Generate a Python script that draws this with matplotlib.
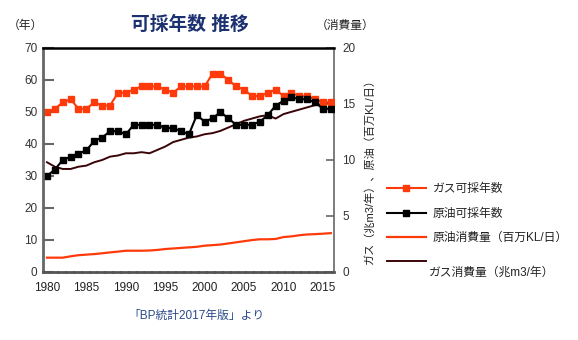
import matplotlib
matplotlib.use("Agg")
import matplotlib.pyplot as plt

plt.rcParams['font.family'] = ['Liberation Sans', 'Noto Sans CJK JP', 'DejaVu Sans']

years = list(range(1980, 2017))
gas_rp = [50, 51, 53, 54, 51, 51, 53, 52, 52, 56,
          56, 57, 58, 58, 58, 57, 56, 58, 58, 58,
          58, 62, 62, 60, 58, 57, 55, 55, 56, 57,
          55, 56, 55, 55, 54, 53, 53]
oil_rp = [30, 32, 35, 36, 37, 38, 41, 42, 44, 44,
          43, 46, 46, 46, 46, 45, 45, 44, 43, 49,
          47, 48, 50, 48, 46, 46, 46, 47, 49, 52,
          53.5, 54.6, 54, 54, 53, 51, 51]
oil_cons = [1.28, 1.28, 1.28, 1.4, 1.5, 1.55, 1.6, 1.67, 1.75, 1.82,
            1.9, 1.9, 1.9, 1.92, 1.97, 2.05, 2.1, 2.15, 2.2, 2.25,
            2.35, 2.4, 2.45, 2.55, 2.65, 2.75, 2.85, 2.92, 2.92, 2.95,
            3.12, 3.18, 3.28, 3.35, 3.38, 3.42, 3.47]
gas_cons = [9.8, 9.4, 9.2, 9.2, 9.4, 9.5, 9.8, 10.0, 10.3, 10.4,
            10.6, 10.6, 10.7, 10.6, 10.9, 11.2, 11.6, 11.8, 12.0, 12.1,
            12.3, 12.4, 12.6, 12.9, 13.2, 13.5, 13.7, 13.9, 14.0, 13.7,
            14.1, 14.3, 14.5, 14.7, 14.9, 15.0, 15.2]

xticks = [1980, 1985, 1990, 1995, 2000, 2005, 2010, 2015]
left_ticks = [0, 10, 20, 30, 40, 50, 60, 70]
right_ticks = [0, 5, 10, 15, 20]
labels = ['ガス可採年数', '原油可採年数', '原油消費量（百万KL/日）', 'ガス消費量（兆m3/年）']

ORANGE = '#ff3a0a'
BROWN = '#3a0508'
GREY = '#666666'

W, H = 578, 340
fig = plt.figure(figsize=(W / 100, H / 100), dpi=100)
ax = fig.add_axes([43 / W, 68 / H, 291 / W, 224 / H])
ax2 = ax.twinx()

ax.set_xlim(1979.5, 2016.4)
ax.set_ylim(0, 70)
ax2.set_ylim(0, 20)

l_oilc, = ax2.plot(years, oil_cons, color=ORANGE, lw=1.6)
l_gasc, = ax2.plot(years, gas_cons, color=BROWN, lw=1.4)
l_gas, = ax.plot(years, gas_rp, color=ORANGE, lw=1.5, marker='s', ms=5, mec=ORANGE)
l_oil, = ax.plot(years, oil_rp, color='black', lw=1.5, marker='s', ms=5)

ax.set_zorder(ax2.get_zorder() + 1)
ax.patch.set_visible(False)

ax.set_yticks(left_ticks)
ax.set_xticks(xticks)
ax.set_xticklabels([str(x) for x in xticks])
ax2.set_yticks(right_ticks)

ax.tick_params(axis='y', direction='in', length=8, width=1.5, color=GREY,
               labelsize=8.5, labelcolor='#333333', pad=4)
ax.tick_params(axis='x', length=0, labelsize=8.5, labelcolor='#222222', pad=7)
ax2.tick_params(axis='y', direction='in', length=6, width=1.2, color=GREY,
                labelsize=8.5, labelcolor='#333333', pad=6)

for a in (ax, ax2):
    for s in a.spines.values():
        s.set_visible(False)
ax.spines['top'].set_visible(True)
ax.spines['top'].set_color('black')
ax.spines['top'].set_linewidth(1.8)
ax.spines['left'].set_visible(True)
ax.spines['left'].set_color(GREY)
ax.spines['left'].set_linewidth(2)
ax.spines['bottom'].set_visible(True)
ax.spines['bottom'].set_color('#555555')
ax.spines['bottom'].set_linewidth(2)
ax.spines['bottom'].set_linestyle((0, (2.2, 0.62)))
ax2.spines['right'].set_visible(True)
ax2.spines['right'].set_color(GREY)
ax2.spines['right'].set_linewidth(1.2)

fig.text(189.5 / W, 1 - 25 / H, '可採年数 推移', ha='center', va='center',
         fontsize=13.5, fontweight='bold', color='#1c3170')
fig.text(25 / W, 1 - 26 / H, '（年）', ha='center', va='center', fontsize=8.5, color='#222222')
fig.text(345 / W, 1 - 26 / H, '（消費量）', ha='center', va='center', fontsize=8.5, color='#222222')
fig.text(369 / W, 1 - 168 / H, 'ガス（兆m3/年）、原油（百万KL/日）', rotation=90,
         ha='center', va='center', fontsize=8, color='#222222')
fig.text(196 / W, 1 - 316 / H, '「BP統計2017年版」より', ha='center', va='center',
         fontsize=8.5, color='#2a4a8a')

leg = fig.legend([l_gas, l_oil, l_oilc, l_gasc], labels[:3] + [' '], loc='center left',
                 bbox_to_anchor=(387 / W, 1 - 226 / H), frameon=False, fontsize=8.5,
                 borderpad=0, borderaxespad=0, handlelength=3.3, handletextpad=0.6,
                 labelspacing=1.05, numpoints=1, labelcolor='#222222')
fig.text(429 / W, 1 - 273 / H, labels[3], ha='left', va='center',
         fontsize=8.5, color='#222222')

fig.savefig('out.png', dpi=100)
